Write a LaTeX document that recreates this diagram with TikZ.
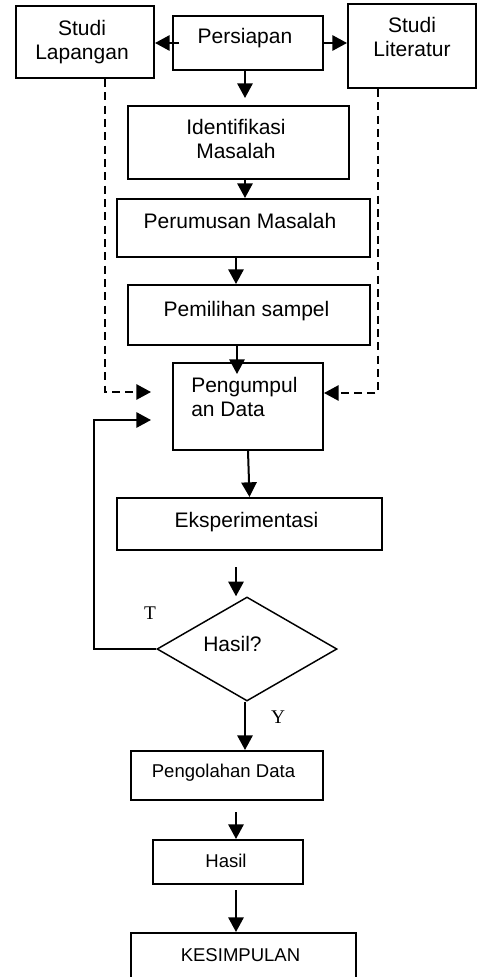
\documentclass[tikz,border=0pt]{standalone}
\usepackage{fontspec}
\setmainfont{Liberation Sans}
\newfontfamily\hurufserif{Liberation Serif}
\usetikzlibrary{positioning,shapes.geometric,arrows.meta,fit}
\newdimen\pix
\pix=0.75pt

\begin{document}
\begin{tikzpicture}[x=0.75pt,y=-0.75pt,>={Triangle[length=11pt,width=11.5pt]},
    kotak/.style={draw, rectangle, line width=1.5pt, inner sep=0pt},
    teks/.style={inner sep=0pt, font=\fontsize{15.75}{18}\selectfont},
    kecil/.style={inner sep=0pt, font=\fontsize{13.9}{16}\selectfont},
    huruf/.style={inner sep=0pt, font=\hurufserif\fontsize{14.5}{16}\selectfont},
    panah/.style={->, line width=1.5pt},
    putus/.style={->, line width=1.3pt, dash pattern=on 6pt off 4pt}]
    \useasboundingbox (0,0) rectangle (477,977);
    \clip (0,0) rectangle (477,977);
    
    % Persiapan -> studi -> pengumpulan data
    \node[kotak, fit={(16,6) (154,78)}] (lap) {};
    \node[kotak, fit={(173,16) (323,70)}] (siap) {};
    \node[kotak, fit={(348,4) (476,88)}] (lit) {};
    \node[kotak, fit={(128,106) (349,179)}] (iden) {};
    \node[kotak, fit={(117,199) (370,257)}] (rumus) {};
    \node[kotak, fit={(128,285) (370,345)}] (pilih) {};
    \node[kotak, fit={(173,363) (323,450)}] (kumpul) {};
    \node[kotak, fit={(117,498) (382,550)}] (eksp) {};
    \node[draw, diamond, line width=1.1pt, inner sep=0pt, minimum width=180\pix, minimum height=104\pix] (cek) at (247,649) {};
    \node[kotak, fit={(131,751) (323,800)}] (olah) {};
    \node[kotak, fit={(153,840) (303,884)}] (hasil) {};
    \node[kotak, fit={(131,933) (356,990)}] (simpul) {};
    
    \node[teks, align=center] (t-lap) at (82,41.8) {Studi\\Lapangan};
    \node[teks, anchor=base] (t-siap) at (245,44) {Persiapan};
    \node[teks, align=center] (t-lit) at (412,37.2) {Studi\\Literatur};
    \node[teks, align=center] (t-iden) at (236,139.2) {Identifikasi\\Masalah};
    \node[teks, anchor=base] (t-rumus) at (240,228) {Perumusan Masalah};
    \node[teks, anchor=base] (t-pilih) at (246.5,316) {Pemilihan sampel};
    \node[teks, align=left, anchor=west] (t-kumpul) at (191,396.7) {Pengumpul\\an Data};
    \node[teks, anchor=base] (t-eksp) at (246.5,527) {Eksperimentasi};
    \node[teks, anchor=base] (t-cek) at (232.5,651) {Hasil?};
    \node[huruf, anchor=base] (t-t) at (150,619.5) {T};
    \node[huruf, anchor=base] (t-y) at (278,723) {Y};
    \node[kecil, anchor=base] (t-olah) at (223.5,777) {Pengolahan Data};
    \node[kecil, anchor=base] (t-hasil) at (226,867) {Hasil};
    \node[kecil, anchor=base] (t-simpul) at (240.5,961) {KESIMPULAN};
    
    \draw[panah, shorten <=-7\pix] (siap.west) -- (siap.west -| lap.east);
    \draw[panah] (siap.east) -- (siap.east -| lit.west);
    \draw[panah, shorten >=7\pix] ([xshift=-3\pix]siap.south) -- ([xshift=6.5\pix]iden.north);
    \draw[panah] ([xshift=6.5\pix]iden.south) -- ([xshift=1.5\pix]rumus.north);
    \draw[panah] ([xshift=-7.5\pix]rumus.south) -- ([xshift=-13\pix]pilih.north);
    \draw[panah, shorten >=-12\pix] ([xshift=-12\pix]pilih.south) -- ([xshift=-11\pix]kumpul.north);
    \draw[panah] (kumpul.south) -- (eksp.north);
    \draw[panah, shorten <=16\pix] ([xshift=-13.5\pix]eksp.south) -- ([xshift=-11\pix]cek.north);
    \draw[panah] ([xshift=-2\pix]cek.south) -- ([xshift=18\pix]olah.north);
    \draw[panah, shorten <=11\pix] ([xshift=9\pix]olah.south) -- ([xshift=8\pix]hasil.north);
    \draw[panah, shorten <=5\pix] ([xshift=8\pix]hasil.south) -- ([xshift=-7.5\pix]simpul.north);
    
    % garis putus-putus dan umpan balik T
    \draw[putus, shorten >=21\pix] ([xshift=20\pix]lap.south) |- ([yshift=14.5\pix]kumpul.west);
    \draw[putus] ([xshift=-34\pix]lit.south) |- ([yshift=13.5\pix]kumpul.east);
    \draw[panah, shorten >=21\pix] (cek.west) -- ++(-62,0) |- ([yshift=-13.5\pix]kumpul.west);
\end{tikzpicture}
\end{document}
